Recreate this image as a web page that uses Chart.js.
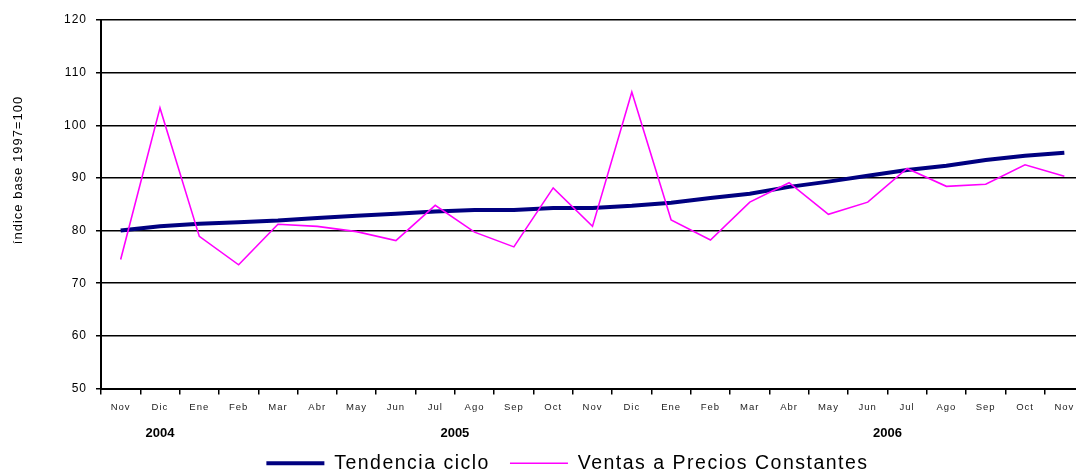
<!DOCTYPE html>
<html>
<head>
<meta charset="utf-8">
<script src="https://cdn.jsdelivr.net/npm/chart.js@4/dist/chart.umd.min.js"></script>
<style>
  html, body { margin: 0; padding: 0; background: #fff; overflow: hidden; }
  #wrap { position: relative; width: 1076px; height: 471px; overflow: hidden; }
</style>
</head>
<body>
<div id="wrap"><canvas id="chart" width="1132" height="483"></canvas></div>
<script>
// ---- Data ----
const meses = ['Nov', 'Dic', 'Ene', 'Feb', 'Mar', 'Abr', 'May', 'Jun', 'Jul', 'Ago', 'Sep', 'Oct',
               'Nov', 'Dic', 'Ene', 'Feb', 'Mar', 'Abr', 'May', 'Jun', 'Jul', 'Ago', 'Sep', 'Oct', 'Nov'];

const tendencia = [80.0, 80.8, 81.3, 81.6, 81.9, 82.4, 82.8, 83.2, 83.6, 83.9, 83.9, 84.3,
                   84.3, 84.7, 85.3, 86.2, 87.0, 88.3, 89.3, 90.4, 91.5, 92.3, 93.4, 94.2, 94.8];

const ventas = [74.5, 103.3, 78.9, 73.5, 81.2, 80.8, 79.8, 78.1, 84.8, 79.7, 76.9, 88.1,
                80.8, 106.3, 82.0, 78.2, 85.4, 89.1, 83.1, 85.4, 91.8, 88.4, 88.8, 92.5, 90.3];

const years   = ['2004', '2005', '2006'];
const yearPos = [1, 8.5, 19.5];   // category index under which each year sits

const FONT = "'Liberation Sans', Arial, sans-serif";

// ---- Letter spacing (legend wider than the axis labels) ----
const spacingPlugin = {
  id: 'spacing',
  afterInit: function (chart) {
    const leg = chart.legend;
    const orig = leg.draw.bind(leg);
    leg.draw = function () {
      chart.ctx.letterSpacing = '1.5px';
      orig();
      chart.ctx.letterSpacing = '1px';
    };
  },
  beforeLayout: function (chart) { chart.ctx.letterSpacing = '1.5px'; },  // legend fits first
  beforeDraw:   function (chart) { chart.ctx.letterSpacing = '1px'; }
};

function axisSpacing(scale) { scale.ctx.letterSpacing = '1px'; }

// ---- Years and y title ----
const extraText = {
  id: 'extraText',
  afterDraw: function (chart) {
    const ctx = chart.ctx;
    const x = chart.scales.x;
    ctx.save();
    ctx.fillStyle = '#000';
    ctx.textAlign = 'center';
    ctx.textBaseline = 'middle';

    ctx.font = 'bold 13px ' + FONT;
    ctx.letterSpacing = '0px';
    years.forEach(function (y, i) {
      ctx.fillText(y, x.getPixelForValue(yearPos[i]), 433);
    });

    ctx.font = '13px ' + FONT;
    ctx.letterSpacing = '1px';
    ctx.translate(18, 170);
    ctx.rotate(-Math.PI / 2);
    ctx.fillText('índice base 1997=100', 0, 0);
    ctx.restore();
  }
};

new Chart(document.getElementById('chart').getContext('2d'), {
  type: 'line',
  data: {
    labels: meses,
    datasets: [{
      label: 'Tendencia ciclo',
      data: tendencia,
      borderColor: '#000080',
      backgroundColor: '#000080',
      borderWidth: 4,
      pointRadius: 0,
      tension: 0,
      order: 1
    }, {
      label: 'Ventas a Precios Constantes',
      data: ventas,
      borderColor: '#FF00FF',
      backgroundColor: '#FF00FF',
      borderWidth: 1.6,
      pointRadius: 0,
      tension: 0,
      order: 0
    }]
  },
  options: {
    responsive: false,
    animation: false,
    layout: { padding: { top: 20, right: 48, left: 30, bottom: 0 } },
    plugins: {
      legend: {
        position: 'bottom',
        labels: {
          usePointStyle: true,
          pointStyle: 'line',
          pointStyleWidth: 58,
          padding: 20,
          color: '#000',
          font: { family: FONT, size: 19.5, lineHeight: 1 },
          sort: function (a, b) { return a.datasetIndex - b.datasetIndex; }
        }
      },
      tooltip: { enabled: false }
    },
    scales: {
      x: {
        offset: true,
        beforeUpdate: axisSpacing,
        afterFit: function (scale) { scale.height = 45; },
        grid: { display: true, offset: true, drawOnChartArea: false, drawTicks: true, tickLength: 6, color: '#000', lineWidth: 1.5 },
        border: { display: true, color: '#000', width: 2 },
        ticks: { color: '#222', padding: 7, maxRotation: 0, autoSkip: false, font: { family: FONT, size: 9.5 } }
      },
      y: {
        min: 50,
        max: 120,
        beforeUpdate: axisSpacing,
        afterFit: function (scale) { scale.width = 71; },
        grid: { color: '#000', lineWidth: 1.5, tickLength: 5 },
        border: { display: true, color: '#000', width: 2 },
        ticks: { stepSize: 10, color: '#000', padding: 9, font: { family: FONT, size: 12 } }
      }
    }
  },
  plugins: [spacingPlugin, extraText]
});
</script>
</body>
</html>
